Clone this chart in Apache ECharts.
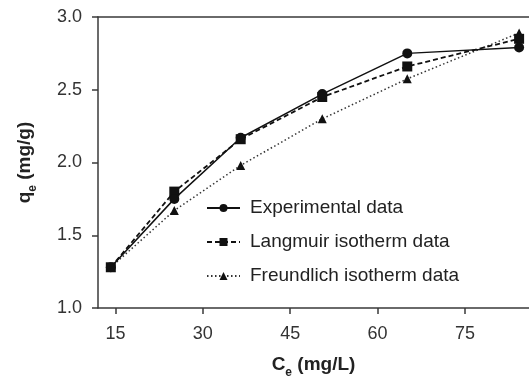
<!DOCTYPE html>
<html>
<head>
<meta charset="utf-8">
<script src="https://cdn.jsdelivr.net/npm/echarts@6/dist/echarts.min.js"></script>
<style>html,body{margin:0;padding:0;background:#fff}#c{width:529px;height:380px}</style>
</head>
<body>
<div id="c"></div>
<script>
var ceValues = [14.2, 25.1, 36.5, 50.5, 65.1, 84.3];
var experimental = [1.28, 1.75, 2.17, 2.47, 2.75, 2.79];
var langmuir = [1.28, 1.80, 2.16, 2.45, 2.66, 2.85];
var freundlich = [1.28, 1.67, 1.98, 2.30, 2.575, 2.89];
var xTicks = [15, 30, 45, 60, 75];
var seriesNames = ['Experimental data', 'Langmuir isotherm data', 'Freundlich isotherm data'];

function pairs(ys) { return ceValues.map(function (x, i) { return [x, ys[i]]; }); }

var FONT = 'Liberation Sans, Arial, sans-serif';
var chart = echarts.init(document.getElementById('c'));
var axisColor = '#3a3a3a';
var labelStyle = { color: '#333', fontSize: 18, fontFamily: FONT };
var nameRich = {
  b: { fontSize: 19, fontWeight: 'bold', color: '#222', fontFamily: FONT, lineHeight: 22 },
  s: { fontSize: 12, fontWeight: 'bold', color: '#222', fontFamily: FONT, verticalAlign: 'bottom', lineHeight: 22, padding: [0, 0, -3, 0] }
};
chart.setOption({
  animation: false,
  grid: { left: 98, right: 0, top: 17, bottom: 72, containLabel: false, outerBoundsMode: 'none' },
  legend: {
    left: 206, top: 198, orient: 'vertical', padding: 0,
    itemWidth: 33, itemHeight: 10, itemGap: 14,
    textStyle: { color: '#222', fontSize: 19, lineHeight: 20, fontFamily: FONT, padding: [0, 0, 0, 5] },
    data: seriesNames
  },
  xAxis: [{
    type: 'value', min: 12, max: 86,
    axisLine: { lineStyle: { color: axisColor, width: 1.5 } },
    axisTick: { show: true, customValues: xTicks, length: 6, lineStyle: { color: axisColor, width: 1.5 } },
    axisLabel: Object.assign({ customValues: xTicks, margin: 17 }, labelStyle),
    splitLine: { show: false },
    name: '{b|C}{s|e}{b| (mg/L)}', nameLocation: 'middle', nameGap: 46,
    nameTextStyle: { rich: nameRich }
  }, {
    type: 'value', min: 12, max: 86, position: 'top',
    axisLine: { show: true, lineStyle: { color: axisColor, width: 1.5 } },
    axisTick: { show: false }, axisLabel: { show: false }, splitLine: { show: false }
  }],
  yAxis: {
    type: 'value', min: 1, max: 3, interval: 0.5,
    axisLine: { show: true, lineStyle: { color: axisColor, width: 1.5 } },
    axisTick: { show: true, length: 6, lineStyle: { color: axisColor, width: 1.5 } },
    axisLabel: Object.assign({ margin: 16, formatter: function (v) { return v.toFixed(1); } }, labelStyle),
    splitLine: { show: false },
    name: '{b|q}{s|e}{b| (mg/g)}', nameLocation: 'middle', nameGap: 62,
    nameTextStyle: { rich: nameRich }
  },
  series: [{
    name: seriesNames[0], type: 'line', data: pairs(experimental),
    symbol: 'circle', symbolSize: 10,
    lineStyle: { color: '#111', width: 1.5, type: 'solid' },
    itemStyle: { color: '#111' }, z: 3
  }, {
    name: seriesNames[1], type: 'line', data: pairs(langmuir),
    symbol: 'rect', symbolSize: 10,
    lineStyle: { color: '#111', width: 1.8, type: [5, 3] },
    itemStyle: { color: '#111' }, z: 2
  }, {
    name: seriesNames[2], type: 'line', data: pairs(freundlich),
    symbol: 'triangle', symbolSize: 9,
    lineStyle: { color: '#333', width: 1.5, type: [1.5, 2.5] },
    itemStyle: { color: '#111' }, z: 1
  }]
});
</script>
</body>
</html>
